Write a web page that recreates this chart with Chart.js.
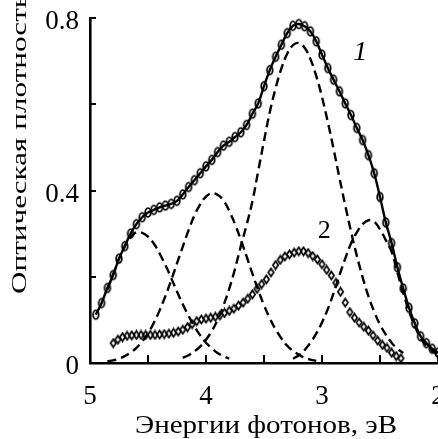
<!DOCTYPE html>
<html>
<head>
<meta charset="utf-8">
<script src="https://cdn.jsdelivr.net/npm/chart.js@4.4.1/dist/chart.umd.min.js"></script>
<style>
  html, body { margin: 0; padding: 0; background: #fff; }
  #chart { display: block; }
</style>
</head>
<body>
<canvas id="chart" width="438" height="439"></canvas>
<script>
// Photon energy grid (eV) for curve 1 and the dashed components
const energy = [4.95, 4.90, 4.85, 4.80, 4.75, 4.70, 4.65, 4.60, 4.55, 4.50,
  4.45, 4.40, 4.35, 4.30, 4.25, 4.20, 4.15, 4.10, 4.05, 4.00,
  3.95, 3.90, 3.85, 3.80, 3.75, 3.70, 3.65, 3.60, 3.55, 3.50,
  3.45, 3.40, 3.35, 3.30, 3.25, 3.20, 3.15, 3.10, 3.05, 3.00,
  2.95, 2.90, 2.85, 2.80, 2.75, 2.70, 2.65, 2.60, 2.55, 2.50,
  2.45, 2.40, 2.35, 2.30, 2.25, 2.20, 2.15, 2.10, 2.05, 2.00];

// Curve 1 (solid + circles)
const curve1 = [0.112, 0.139, 0.174, 0.204, 0.242, 0.271, 0.300, 0.322, 0.338, 0.349,
  0.355, 0.361, 0.365, 0.369, 0.376, 0.391, 0.408, 0.424, 0.440, 0.456,
  0.471, 0.489, 0.504, 0.513, 0.524, 0.535, 0.552, 0.578, 0.602, 0.642,
  0.679, 0.710, 0.738, 0.765, 0.782, 0.786, 0.781, 0.769, 0.746, 0.715,
  0.684, 0.657, 0.630, 0.602, 0.575, 0.545, 0.517, 0.482, 0.440, 0.385,
  0.326, 0.278, 0.222, 0.173, 0.128, 0.092, 0.062, 0.046, 0.033, 0.024];

// Dashed gaussian components (same energy grid, null = not drawn)
const band1 = [null, null, 0.170, 0.206, 0.241, 0.271, 0.292, 0.303, 0.302, 0.293,
  0.277, 0.254, 0.227, 0.197, 0.166, 0.136, 0.109, 0.085, 0.064, 0.047,
  0.034, 0.023, 0.016, 0.010, null, null, null, null, null, null,
  null, null, null, null, null, null, null, null, null, null,
  null, null, null, null, null, null, null, null, null, null,
  null, null, null, null, null, null, null, null, null, null];

const band2 = [null, null, 0.004, 0.006, 0.010, 0.016, 0.024, 0.035, 0.050, 0.069,
  0.093, 0.122, 0.155, 0.192, 0.231, 0.270, 0.308, 0.342, 0.368, 0.386,
  0.394, 0.390, 0.377, 0.353, 0.322, 0.286, 0.247, 0.207, 0.169, 0.134,
  0.104, 0.078, 0.057, 0.040, 0.028, 0.019, 0.012, 0.008, 0.005, null,
  null, null, null, null, null, null, null, null, null, null,
  null, null, null, null, null, null, null, null, null, null];

const band3 = [null, null, null, null, null, null, null, null, null, null,
  null, null, null, null, null, 0.012, 0.018, 0.027, 0.038, 0.054,
  0.074, 0.100, 0.133, 0.172, 0.218, 0.271, 0.320, 0.375, 0.445, 0.515,
  0.582, 0.637, 0.683, 0.717, 0.737, 0.742, 0.731, 0.705, 0.666, 0.617,
  0.559, 0.496, 0.430, 0.366, 0.305, 0.249, 0.199, 0.155, 0.119, 0.089,
  0.066, 0.047, 0.033, 0.023, null, null, null, null, null, null];

const band4 = [null, null, null, null, null, null, null, null, null, null,
  null, null, null, null, null, null, null, null, null, null,
  null, null, null, null, null, null, null, null, null, null,
  null, null, null, null, 0.010, 0.018, 0.030, 0.047, 0.068, 0.094,
  0.125, 0.162, 0.203, 0.242, 0.277, 0.303, 0.322, 0.331, 0.328, 0.310,
  0.285, 0.258, 0.210, 0.163, 0.120, 0.086, 0.058, 0.040, 0.028, 0.020];

// Curve 2 (diamonds), its own energy grid
const energy2 = [4.80, 4.76, 4.72, 4.68, 4.64, 4.60, 4.56, 4.52, 4.48, 4.44,
  4.40, 4.36, 4.32, 4.28, 4.24, 4.20, 4.16, 4.12, 4.08, 4.04,
  4.00, 3.96, 3.92, 3.88, 3.84, 3.80, 3.76, 3.72, 3.68, 3.64,
  3.60, 3.56, 3.52, 3.48, 3.44, 3.40, 3.36, 3.32, 3.28, 3.24,
  3.20, 3.16, 3.12, 3.08, 3.04, 3.00, 2.96, 2.92, 2.88, 2.84,
  2.80, 2.76, 2.72, 2.68, 2.64, 2.60, 2.56, 2.52, 2.48, 2.44,
  2.40, 2.36, 2.32];

const curve2 = [0.046, 0.054, 0.060, 0.063, 0.064, 0.065, 0.065, 0.065, 0.065, 0.065,
  0.066, 0.067, 0.068, 0.070, 0.073, 0.077, 0.083, 0.090, 0.097, 0.101,
  0.103, 0.105, 0.107, 0.110, 0.116, 0.121, 0.126, 0.133, 0.140, 0.149,
  0.159, 0.172, 0.183, 0.194, 0.210, 0.227, 0.239, 0.247, 0.252, 0.256,
  0.259, 0.259, 0.255, 0.248, 0.240, 0.229, 0.216, 0.203, 0.186, 0.165,
  0.140, 0.118, 0.105, 0.094, 0.084, 0.075, 0.064, 0.052, 0.042, 0.035,
  0.024, 0.016, 0.011];

// Tick labels shown
const xLabelValues = [5, 4, 3, 2];
const yLabelValues = [0, 0.4, 0.8];

const xTitle = "Энергии фотонов, эВ";
const yTitle = "Оптическая плотность";
const curveNames = ["1", "2"];

const FONT = '"Liberation Serif", "Times New Roman", serif';

// marker images: tall open ellipse and small diamond
function makeEllipse() {
  const c = document.createElement('canvas');
  c.width = 10; c.height = 13;
  const g = c.getContext('2d');
  g.strokeStyle = '#000';
  g.lineWidth = 1.8;
  g.beginPath();
  g.ellipse(5, 6.5, 2.8, 4.3, 0, 0, Math.PI * 2);
  g.stroke();
  return c;
}

function makeDiamond() {
  const c = document.createElement('canvas');
  c.width = 9; c.height = 11;
  const g = c.getContext('2d');
  g.strokeStyle = '#000';
  g.lineWidth = 1.7;
  g.beginPath();
  g.moveTo(4.5, 1.5);
  g.lineTo(7.2, 5.5);
  g.lineTo(4.5, 9.5);
  g.lineTo(1.8, 5.5);
  g.closePath();
  g.stroke();
  return c;
}

const toPoints = (xs, ys) => xs.map((x, i) => ({ x: x, y: ys[i] }));

function dashed(values) {
  return {
    data: toPoints(energy, values),
    borderColor: '#000',
    borderWidth: 2.4,
    borderDash: [9, 5],
    pointRadius: 0,
    tension: 0.4,
    fill: false
  };
}

// draws text squeezed/stretched horizontally to a given width
function stretchedText(ctx, text, x, y, size, targetWidth, style) {
  ctx.save();
  ctx.font = (style ? style + ' ' : '') + size + 'px ' + FONT;
  const w = ctx.measureText(text).width;
  ctx.translate(x, y);
  ctx.scale(targetWidth / w, 1);
  ctx.fillText(text, 0, 0);
  ctx.restore();
}

// inward ticks, tick labels on x, titles and curve numbers
const extrasPlugin = {
  id: 'extras',
  afterDraw(chart) {
    const ctx = chart.ctx;
    const xs = chart.scales.x;
    const ys = chart.scales.y;
    const area = chart.chartArea;

    ctx.save();
    ctx.strokeStyle = '#000';
    ctx.lineWidth = 2;
    xs.ticks.forEach(t => {
      const px = Math.round(xs.getPixelForValue(t.value));
      ctx.beginPath();
      ctx.moveTo(px, area.bottom);
      ctx.lineTo(px, area.bottom - 8);
      ctx.stroke();
    });
    ys.ticks.forEach(t => {
      const py = Math.round(ys.getPixelForValue(t.value));
      ctx.beginPath();
      ctx.moveTo(area.left, py);
      ctx.lineTo(area.left + 6, py);
      ctx.stroke();
    });
    ctx.restore();

    ctx.save();
    ctx.fillStyle = '#000';

    // x tick labels (centered, last one runs off the edge like the original)
    ctx.font = '27px ' + FONT;
    ctx.textAlign = 'center';
    ctx.textBaseline = 'alphabetic';
    xLabelValues.forEach(v => {
      ctx.fillText(String(v), xs.getPixelForValue(v), 404);
    });

    // x title
    ctx.textAlign = 'left';
    stretchedText(ctx, xTitle, 135, 433, 26, 262);

    // y title, stretched along its length
    ctx.save();
    ctx.translate(26, 294);
    ctx.rotate(-Math.PI / 2);
    stretchedText(ctx, yTitle, 0, 0, 21, 300);
    ctx.restore();

    // curve numbers
    ctx.textAlign = 'center';
    ctx.textBaseline = 'middle';
    ctx.font = 'italic 28px ' + FONT;
    ctx.fillText(curveNames[0], xs.getPixelForValue(2.67), ys.getPixelForValue(0.72));
    ctx.font = '26px ' + FONT;
    ctx.fillText(curveNames[1], xs.getPixelForValue(2.98), ys.getPixelForValue(0.306));
    ctx.restore();
  }
};

const ctx = document.getElementById('chart').getContext('2d');

new Chart(ctx, {
  type: 'line',
  data: {
    datasets: [
      {
        data: toPoints(energy, curve1),
        borderColor: '#000',
        borderWidth: 2.4,
        pointStyle: makeEllipse(),
        pointRadius: 4,
        tension: 0.4,
        fill: false
      },
      {
        data: toPoints(energy2, curve2),
        showLine: false,
        pointStyle: makeDiamond(),
        pointRadius: 3
      },
      dashed(band1),
      dashed(band2),
      dashed(band3),
      dashed(band4)
    ]
  },
  options: {
    responsive: false,
    animation: false,
    devicePixelRatio: 1,
    // right edge of the plot sits on the canvas edge in the original
    layout: { autoPadding: false, padding: { top: 18, right: 0, bottom: 0, left: 0 } },
    plugins: {
      legend: { display: false },
      tooltip: { enabled: false }
    },
    scales: {
      x: {
        type: 'linear',
        reverse: true,
        min: 2,
        max: 5,
        grid: { display: true, drawOnChartArea: false, drawTicks: false },
        border: { display: true, color: '#000', width: 2.6 },
        ticks: { stepSize: 0.5, display: false },
        afterFit: s => { s.height = 76; s.paddingLeft = 0; s.paddingRight = 0; }
      },
      y: {
        min: 0,
        max: 0.8,
        grid: { display: true, drawOnChartArea: false, drawTicks: false },
        border: { display: true, color: '#000', width: 2.6 },
        ticks: {
          stepSize: 0.2,
          padding: 11,
          labelOffset: 4,
          color: '#000',
          font: { family: FONT, size: 27 },
          callback: v => {
            const hit = yLabelValues.find(l => Math.abs(l - v) < 1e-6);
            if (hit === undefined) return '';
            return hit === 0 ? '0' : hit.toFixed(1);
          }
        },
        afterFit: s => { s.width = 90; s.paddingTop = 0; s.paddingBottom = 0; }
      }
    }
  },
  plugins: [extrasPlugin]
});
</script>
</body>
</html>
